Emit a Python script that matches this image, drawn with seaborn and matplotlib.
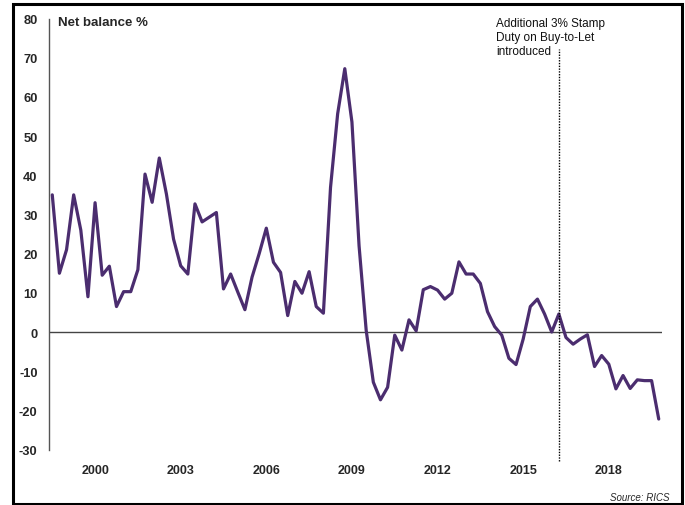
import numpy as np
import pandas as pd
import matplotlib
matplotlib.use("Agg")
import matplotlib.pyplot as plt
import seaborn as sns
from matplotlib.patches import Rectangle

# ---- data (quarterly, 1998 Q3 .. 2019 Q4) ----
start_year = 1998
start_quarter = 3
net_balance = [
    35, 15, 21, 35, 26, 9, 33, 14.5, 16.8, 6.5,
    10.3, 10.3, 15.9, 40.3, 33.1, 44.4, 35.2, 23.7, 16.9, 14.8,
    32.7, 28.1, 29.3, 30.5, 11.0, 14.8, 10.2, 5.7, 14.0, 20.0,
    26.5, 17.8, 15.2, 4.2, 12.9, 9.9, 15.4, 6.5, 4.8, 36.9,
    55.7, 67.2, 53.6, 22.0, 0.4, -12.8, -17.3, -14.1, -0.8, -4.6,
    3.1, 0.3, 10.8, 11.6, 10.7, 8.4, 9.9, 17.9, 14.8, 14.8,
    12.4, 5.2, 1.4, -0.8, -6.7, -8.3, -1.8, 6.5, 8.4, 4.6,
    0.0, 4.6, -1.4, -3.1, -1.8, -0.7, -8.8, -6.0, -8.2, -14.5,
    -11.1, -14.4, -12.2, -12.4, -12.4, -22.2,
]
tick_years = [2000, 2003, 2006, 2009, 2012, 2015, 2018]
y_ticks = [80, 70, 60, 50, 40, 30, 20, 10, 0, -10, -20, -30]
event_label = "Additional 3% Stamp\nDuty on Buy-to-Let\nintroduced"
event_year, event_quarter = 2016, 2
source_text = "Source: RICS"
axis_title = "Net balance %"

n = len(net_balance)
quarters = []
y, q = start_year, start_quarter
for _ in range(n):
    quarters.append(f"{y} Q{q}")
    q += 1
    if q > 4:
        q = 1
        y += 1
df = pd.DataFrame({"pos": np.arange(n), "quarter": quarters, "value": net_balance})

def pos_of(year, quarter):
    return quarters.index(f"{year} Q{quarter}")

# ---- figure ----
W, H = 685, 506
sns.set_style("white")
plt.rcParams["font.family"] = ["Liberation Sans", "DejaVu Sans"]
fig = plt.figure(figsize=(W / 100, H / 100), dpi=100)

left_px, right_px = 48.7, 662.3
top_px, bot_px = 19.5, 450.6
ax = fig.add_axes([left_px / W, 1 - bot_px / H, (right_px - left_px) / W, (bot_px - top_px) / H])

line_color = "#4b2d6f"
sns.lineplot(data=df, x="pos", y="value", ax=ax, color=line_color, linewidth=2.3)

ax.set_xlim(-0.5, n - 0.5)
ax.set_ylim(-30, 80)
ax.axhline(0, color="#444444", linewidth=1.0, zorder=1)

for s in ["top", "right", "bottom"]:
    ax.spines[s].set_visible(False)
ax.spines["left"].set_color("#555555")
ax.spines["left"].set_linewidth(1.0)

ax.set_yticks(y_ticks)
ax.set_yticklabels([str(v) for v in y_ticks], fontsize=9.3, fontweight="bold")
ax.set_xticks([pos_of(yr, 1) for yr in tick_years])
ax.set_xticklabels([str(yr) for yr in tick_years], fontsize=9, fontweight="bold")
ax.tick_params(axis="y", length=0, pad=8)
ax.tick_params(axis="x", length=0, pad=10.5)
ax.set_xlabel("")
ax.set_ylabel("")

# event marker
ev = pos_of(event_year, event_quarter)
ax.vlines(ev, -33, 72.2, colors="black", linestyles=(0, (1, 1)), linewidth=1.0, clip_on=False)
fig.text(496.5 / W, 1 - 17.5 / H, event_label, fontsize=8.5, va="top", ha="left",
         linespacing=1.25, color="#111111")

fig.text(58 / W, 1 - 22.5 / H, axis_title, fontsize=9.5, fontweight="bold", va="center", ha="left")
fig.text(670 / W, 1 - 498.5 / H, source_text, fontsize=7, style="italic", va="center", ha="right")

# outer frame
fig.patches.append(Rectangle((13 / W, 1 - 505 / H), (682 - 13) / W, (505 - 5) / H,
                             transform=fig.transFigure, fill=False, edgecolor="black",
                             linewidth=2.2, figure=fig))

fig.savefig("out.png", dpi=100)
